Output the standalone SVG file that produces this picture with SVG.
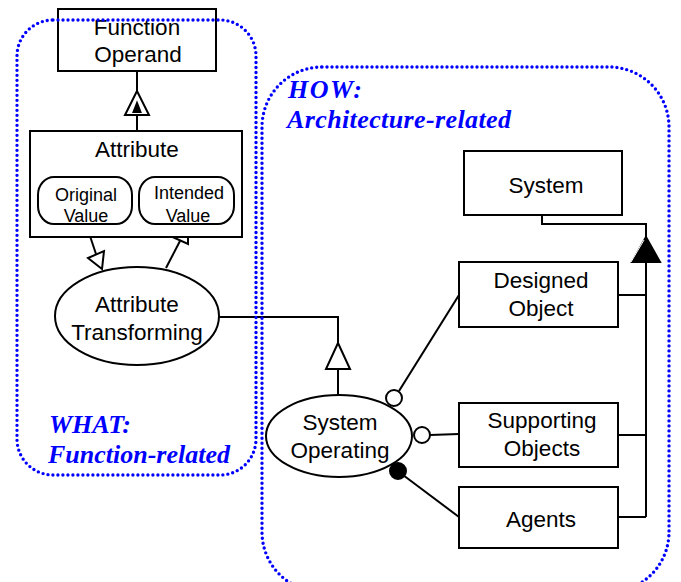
<svg xmlns="http://www.w3.org/2000/svg" width="681" height="582" viewBox="0 0 681 582">
  <style>
    .box { fill: #fff; stroke: #000; stroke-width: 2; }
    .line { fill: none; stroke: #000; stroke-width: 2; }
    .open { fill: #fff; stroke: #000; stroke-width: 2; stroke-linejoin: miter; }
    .solid { fill: #000; stroke: #000; stroke-width: 2; }
    .zone { fill: none; stroke: #0000ff; stroke-width: 3.4; stroke-linecap: round; stroke-dasharray: 0 5; }
    .t { font-family: "Liberation Sans", Arial, sans-serif; font-size: 22.5px; fill: #000; text-anchor: middle; }
    .ts { font-family: "Liberation Sans", Arial, sans-serif; font-size: 18px; fill: #000; text-anchor: middle; }
    .zl { font-family: "Liberation Serif", "Times New Roman", serif; font-size: 26px; font-weight: bold; font-style: italic; fill: #0000ff; }
  </style>
  <rect width="681" height="582" fill="#fff"/>

  <!-- connectors -->
  <g id="connectors">
    <!-- Attribute characterizes Function Operand -->
    <path class="line" d="M137 71 V91 M137 115 V131"/>
    <polygon class="open" points="137,91 125,115 149,115"/>
    <polygon class="solid" points="137,103 133.5,112 140.5,112" stroke-width="1"/>

    <!-- Original Value consumed by Attribute Transforming -->
    <path class="line" d="M86 224 L96 254"/>
    <polygon class="open" points="102,269 88,258 104,251"/>
    <!-- Attribute Transforming yields Intended Value -->
    <path class="line" d="M166 268 L180 241"/>
    <polygon class="open" points="188,226 172.5,237 188,244"/>

    <!-- specialization: Attribute Transforming to System Operating -->
    <path class="line" d="M218 317 H338 V343 M338 369 V395"/>
    <polygon class="open" points="338,343 326,369 350,369"/>

    <!-- aggregation of System -->
    <path class="line" d="M542 215 V224 H646 V237 M646 262 V517 M618 295 H646 M618 435 H646 M618 517 H646"/>
    <polygon class="solid" points="646,237 632,262 660,262"/>
    <path d="M644 240 L631 262" fill="none" stroke="#fff" stroke-width="1"/>

    <!-- instruments and agent links -->
    <path class="line" d="M459 295 L399 391"/>
    <circle class="open" cx="394" cy="398" r="8"/>
    <path class="line" d="M459 434 L430 435"/>
    <circle class="open" cx="422" cy="435" r="8"/>
    <path class="line" d="M459 517 L403 475"/>
    <circle class="solid" cx="398" cy="471" r="8"/>
  </g>

  <!-- objects and processes -->
  <g id="function-operand">
    <rect class="box" x="58" y="9" width="158" height="62"/>
    <text class="t" x="137" y="35">Function</text>
    <text class="t" x="138" y="62">Operand</text>
  </g>
  <g id="attribute">
    <rect class="box" x="30" y="131" width="212" height="106"/>
    <text class="t" x="137" y="157">Attribute</text>
  </g>
  <g id="original-value">
    <rect class="box" x="38" y="177" width="94" height="47" rx="16" ry="18"/>
    <text class="ts" x="86" y="201">Original</text>
    <text class="ts" x="86" y="222">Value</text>
  </g>
  <g id="intended-value">
    <rect class="box" x="139" y="177" width="95" height="47" rx="16" ry="18"/>
    <text class="ts" x="189" y="199">Intended</text>
    <text class="ts" x="188" y="222">Value</text>
  </g>
  <g id="attribute-transforming">
    <ellipse class="box" cx="137" cy="316" rx="82" ry="49"/>
    <text class="t" x="137" y="312">Attribute</text>
    <text class="t" x="137" y="340">Transforming</text>
  </g>
  <g id="system-operating">
    <ellipse class="box" cx="339" cy="436" rx="73" ry="41"/>
    <text class="t" x="340" y="430">System</text>
    <text class="t" x="340" y="458">Operating</text>
  </g>
  <g id="system">
    <rect class="box" x="464" y="151" width="158" height="64"/>
    <text class="t" x="546" y="193">System</text>
  </g>
  <g id="designed-object">
    <rect class="box" x="459" y="262" width="159" height="65"/>
    <text class="t" x="541" y="288">Designed</text>
    <text class="t" x="541" y="316">Object</text>
  </g>
  <g id="supporting-objects">
    <rect class="box" x="459" y="403" width="159" height="64"/>
    <text class="t" x="542" y="428">Supporting</text>
    <text class="t" x="542" y="456">Objects</text>
  </g>
  <g id="agents">
    <rect class="box" x="459" y="487" width="159" height="61"/>
    <text class="t" x="541" y="527">Agents</text>
  </g>

  <!-- dotted zones, drawn last so the dots run over the boxes -->
  <g id="zone-what">
    <rect class="zone" x="17" y="20" width="239" height="455" rx="36" ry="36"/>
    <text class="zl" x="49" y="433">WHAT:</text>
    <text class="zl" x="48" y="463">Function-related</text>
  </g>
  <g id="zone-how">
    <rect class="zone" x="262" y="67" width="407" height="525" rx="60" ry="60"/>
    <text class="zl" x="288" y="98" textLength="74">HOW:</text>
    <text class="zl" x="287" y="128" textLength="224">Architecture-related</text>
  </g>
</svg>
